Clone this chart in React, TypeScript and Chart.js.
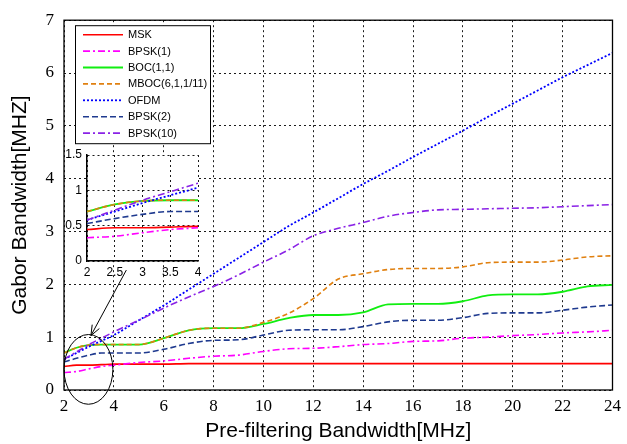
import { useEffect, useRef } from 'react';
import { Chart, registerables } from 'chart.js';

Chart.register(...registerables);

// ---------- data ----------
const bandwidth = [2, 2.5, 3, 3.5, 4, 5, 6, 7, 8, 9, 10, 11, 12, 13, 14, 15, 16, 17, 18, 19, 20, 21, 22, 23, 24];
const msk = [0.445, 0.47, 0.47, 0.48, 0.49, 0.49, 0.49, 0.5, 0.5, 0.5, 0.5, 0.5, 0.5, 0.5, 0.5, 0.5, 0.5, 0.5, 0.5, 0.5, 0.5, 0.5, 0.5, 0.5, 0.5];
const bpsk1 = [0.33, 0.35, 0.4, 0.445, 0.47, 0.52, 0.55, 0.6, 0.64, 0.66, 0.73, 0.78, 0.79, 0.82, 0.86, 0.88, 0.92, 0.93, 0.98, 1.0, 1.03, 1.05, 1.08, 1.1, 1.13];
const boc11 = [0.7, 0.8, 0.85, 0.86, 0.86, 0.86, 0.98, 1.13, 1.17, 1.17, 1.25, 1.36, 1.42, 1.42, 1.47, 1.62, 1.63, 1.63, 1.68, 1.79, 1.81, 1.81, 1.86, 1.96, 1.99];
const mboc = [0.7, 0.8, 0.85, 0.86, 0.86, 0.86, 0.98, 1.13, 1.17, 1.17, 1.28, 1.45, 1.73, 2.1, 2.2, 2.28, 2.3, 2.3, 2.33, 2.41, 2.42, 2.42, 2.46, 2.52, 2.54];
const ofdm = [0.58, 0.7, 0.82, 0.93, 1.04, 1.32, 1.6, 1.9, 2.2, 2.5, 2.8, 3.1, 3.36, 3.63, 3.9, 4.15, 4.41, 4.66, 4.91, 5.17, 5.42, 5.67, 5.92, 6.15, 6.38];
const bpsk2 = [0.53, 0.6, 0.66, 0.7, 0.7, 0.7, 0.77, 0.88, 0.94, 0.95, 1.04, 1.13, 1.14, 1.14, 1.2, 1.29, 1.32, 1.32, 1.37, 1.45, 1.46, 1.46, 1.51, 1.57, 1.61];
const bpsk10 = [0.58, 0.72, 0.86, 0.98, 1.1, 1.32, 1.55, 1.76, 1.96, 2.18, 2.42, 2.65, 2.92, 3.06, 3.17, 3.29, 3.36, 3.41, 3.42, 3.43, 3.44, 3.45, 3.47, 3.49, 3.51];

const seriesNames = ['MSK', 'BPSK(1)', 'BOC(1,1)', 'MBOC(6,1,1/11)', 'OFDM', 'BPSK(2)', 'BPSK(10)'];
const seriesValues = [msk, bpsk1, boc11, mboc, ofdm, bpsk2, bpsk10];

const xTicks = [2, 4, 6, 8, 10, 12, 14, 16, 18, 20, 22, 24];
const yTicks = [0, 1, 2, 3, 4, 5, 6, 7];
const insetXTicks = [2, 2.5, 3, 3.5, 4];
const insetYTicks = [0, 0.5, 1, 1.5];

const xTitle = 'Pre-filtering Bandwidth[MHz]';
const yTitle = 'Gabor Bandwidth[MHZ]';

// zoom marker (data units)
const zoomCenter = [2.98, 0.39];
const zoomRadius = [0.98, 0.66];
const arrowFrom = [4.5, 2.27];
const arrowTo = [3.08, 1.03];

// ---------- styles ----------
const colors = ['#ff0000', '#ff00ff', '#11ee11', '#e08010', '#0000ff', '#1f3a8f', '#8a22e6'];
const dashes: number[][] = [[], [7, 3, 2, 3], [], [5, 3], [2, 2], [6, 3], [7, 3, 2, 3]];
const widths = [1.6, 1.6, 1.8, 1.6, 1.8, 1.6, 1.6];

const SERIF = '"Times New Roman", "Liberation Serif", Times, serif';
const SANS = '"Liberation Sans", Arial, Helvetica, sans-serif';

function makeDatasets() {
  return seriesNames.map((name, i) => ({
    label: name,
    data: bandwidth.map((x, j) => ({ x, y: seriesValues[i][j] })),
    borderColor: colors[i],
    backgroundColor: colors[i],
    borderDash: dashes[i],
    borderWidth: widths[i],
    pointRadius: 0,
    fill: false,
    cubicInterpolationMode: 'monotone' as const,
    order: seriesNames.length - i,
  }));
}

const plainLabel = (v: any) => String(v);

export default function App() {
  const mainRef = useRef<HTMLCanvasElement>(null);
  const insetRef = useRef<HTMLCanvasElement>(null);

  useEffect(() => {
    if (!mainRef.current || !insetRef.current) return;

    const overlay = {
      id: 'overlay',
      afterDraw(chart: any) {
        const { ctx, chartArea: a, scales } = chart;
        const xs = scales.x;
        const ys = scales.y;
        ctx.save();
        // box
        ctx.strokeStyle = '#000';
        ctx.lineWidth = 1.3;
        ctx.setLineDash([]);
        ctx.strokeRect(a.left, a.top, a.right - a.left, a.bottom - a.top);

        // legend
        const lx = a.left + 11;
        const ly = a.top + 5;
        const lw = 135;
        const lh = 118;
        ctx.fillStyle = '#fff';
        ctx.fillRect(lx, ly, lw, lh);
        ctx.lineWidth = 1;
        ctx.strokeRect(lx + 0.5, ly + 0.5, lw, lh);
        ctx.font = `11px ${SANS}`;
        ctx.textBaseline = 'middle';
        ctx.textAlign = 'left';
        seriesNames.forEach((name, i) => {
          const yy = ly + 9.5 + i * 16.4;
          ctx.beginPath();
          ctx.strokeStyle = colors[i];
          ctx.lineWidth = widths[i];
          ctx.setLineDash(dashes[i]);
          ctx.moveTo(lx + 8, yy);
          ctx.lineTo(lx + 48, yy);
          ctx.stroke();
          ctx.setLineDash([]);
          ctx.fillStyle = '#000';
          ctx.fillText(name, lx + 53, yy + 0.5);
        });

        // zoom ellipse
        const cx = xs.getPixelForValue(zoomCenter[0]);
        const cy = ys.getPixelForValue(zoomCenter[1]);
        const rx = xs.getPixelForValue(zoomCenter[0] + zoomRadius[0]) - cx;
        const ry = cy - ys.getPixelForValue(zoomCenter[1] + zoomRadius[1]);
        ctx.beginPath();
        ctx.strokeStyle = '#000';
        ctx.lineWidth = 1;
        ctx.ellipse(cx, cy, rx, ry, 0, 0, Math.PI * 2);
        ctx.stroke();

        // arrow
        const x1 = xs.getPixelForValue(arrowFrom[0]);
        const y1 = ys.getPixelForValue(arrowFrom[1]);
        const x2 = xs.getPixelForValue(arrowTo[0]);
        const y2 = ys.getPixelForValue(arrowTo[1]);
        ctx.beginPath();
        ctx.moveTo(x1, y1);
        ctx.lineTo(x2, y2);
        ctx.stroke();
        const ang = Math.atan2(y2 - y1, x2 - x1);
        const hl = 11;
        const spread = 0.38;
        ctx.beginPath();
        ctx.moveTo(x2 - hl * Math.cos(ang - spread), y2 - hl * Math.sin(ang - spread));
        ctx.lineTo(x2, y2);
        ctx.lineTo(x2 - hl * Math.cos(ang + spread), y2 - hl * Math.sin(ang + spread));
        ctx.stroke();
        ctx.restore();
      },
    };

    const main = new Chart(mainRef.current, {
      type: 'line',
      data: { datasets: makeDatasets() as any },
      options: {
        responsive: false,
        animation: false,
        layout: { padding: { top: 17, right: 11, left: 0, bottom: 0 } },
        plugins: { legend: { display: false }, tooltip: { enabled: false } },
        scales: {
          x: {
            type: 'linear',
            min: 2,
            max: 24,
            afterBuildTicks: (s: any) => { s.ticks = xTicks.map((v) => ({ value: v })); },
            afterFit: (s: any) => { s.height = 54; },
            grid: { color: '#000', lineWidth: 0.9, drawTicks: false },
            border: { display: false, dash: [2, 3] },
            ticks: { padding: 6, color: '#000', maxRotation: 0, autoSkip: false, callback: plainLabel, font: { family: SERIF, size: 17 } },
            title: { display: true, text: xTitle, color: '#000', font: { family: SANS, size: 21 }, padding: { top: 0, bottom: 0 } },
          },
          y: {
            type: 'linear',
            min: 0,
            max: 7,
            afterBuildTicks: (s: any) => { s.ticks = yTicks.map((v) => ({ value: v })); },
            afterFit: (s: any) => { s.width = 64; },
            grid: { color: '#000', lineWidth: 0.9, drawTicks: false },
            border: { display: false, dash: [2, 3] },
            ticks: { padding: 10, color: '#000', autoSkip: false, callback: plainLabel, font: { family: SERIF, size: 17 } },
            title: { display: true, text: yTitle, color: '#000', font: { family: SANS, size: 21 }, padding: { top: 8, bottom: 0 } },
          },
        },
      },
      plugins: [overlay],
    });

    const insetBg = {
      id: 'insetBg',
      beforeDraw(chart: any) {
        const { ctx, chartArea: a } = chart;
        ctx.save();
        ctx.fillStyle = '#fff';
        ctx.fillRect(a.left, a.top, a.right - a.left, a.bottom - a.top);
        ctx.restore();
      },
    };

    const inset = new Chart(insetRef.current, {
      type: 'line',
      data: { datasets: makeDatasets() as any },
      options: {
        responsive: false,
        animation: false,
        layout: { padding: { top: 15, right: 12, left: 0, bottom: 0 } },
        plugins: { legend: { display: false }, tooltip: { enabled: false } },
        scales: {
          x: {
            type: 'linear',
            min: 2,
            max: 4,
            afterBuildTicks: (s: any) => { s.ticks = insetXTicks.map((v) => ({ value: v })); },
            afterFit: (s: any) => { s.height = 29; },
            grid: { color: '#000', lineWidth: 0.9, drawTicks: false },
            border: { display: true, color: '#000', width: 1.5, dash: [2, 3] },
            ticks: { padding: 4, color: '#000', maxRotation: 0, autoSkip: false, callback: plainLabel, font: { family: SANS, size: 12 } },
          },
          y: {
            type: 'linear',
            min: 0,
            max: 1.5,
            afterBuildTicks: (s: any) => { s.ticks = insetYTicks.map((v) => ({ value: v })); },
            afterFit: (s: any) => { s.width = 47; },
            grid: { color: '#000', lineWidth: 0.9, drawTicks: false },
            border: { display: true, color: '#000', width: 1.5, dash: [2, 3] },
            ticks: { padding: 5, color: '#000', autoSkip: false, callback: plainLabel, font: { family: SANS, size: 12 } },
          },
        },
      },
      plugins: [insetBg],
    });

    return () => {
      main.destroy();
      inset.destroy();
    };
  }, []);

  return (
    <div style={{ position: 'fixed', left: 0, top: 0, width: 627, height: 444, background: '#fff' }}>
      <canvas ref={mainRef} width={627} height={444} style={{ position: 'absolute', left: 0, top: 0, width: 627, height: 444 }} />
      <canvas ref={insetRef} width={170} height={150} style={{ position: 'absolute', left: 40, top: 140, width: 170, height: 150 }} />
    </div>
  );
}
